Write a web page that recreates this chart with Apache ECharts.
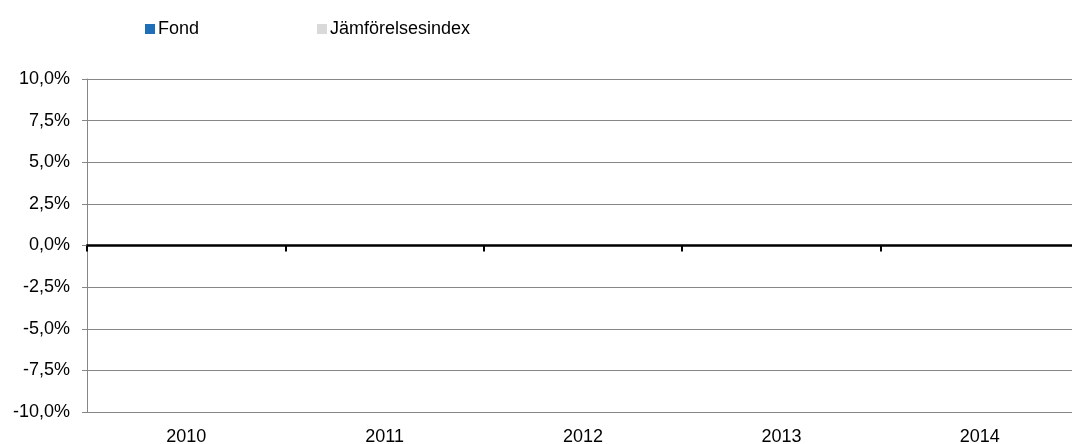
<!DOCTYPE html>
<html>
<head>
<meta charset="utf-8">
<script src="https://cdn.jsdelivr.net/npm/echarts@6/dist/echarts.min.js"></script>
<style>
html,body{margin:0;padding:0;background:#fff;}
#chart{width:1072px;height:444px;}
</style>
</head>
<body>
<div id="chart"></div>
<script>
const categories = ['2010', '2011', '2012', '2013', '2014'];
const fondValues = [0, 0, 0, 0, 0];
const indexValues = [0, 0, 0, 0, 0];
const seriesNames = ['Fond', 'Jämförelsesindex'];
const seriesColors = ['#1f6fb8', '#d9d9d9'];

const chart = echarts.init(document.getElementById('chart'), null, {renderer: 'canvas'});
const font = 'Liberation Sans, Arial, sans-serif';
const legendBase = {
  top: 20,
  itemWidth: 10,
  itemHeight: 10,
  icon: 'rect',
  padding: 0,
  textStyle: {fontFamily: font, fontSize: 18, color: '#000', padding: [0, 0, 0, -2]}
};
chart.setOption({
  animation: false,
  backgroundColor: '#fff',
  color: seriesColors,
  legend: [
    Object.assign({}, legendBase, {left: 145, data: [seriesNames[0]]}),
    Object.assign({}, legendBase, {left: 317, data: [seriesNames[1]]})
  ],
  grid: {left: 87, right: -7, top: 79, bottom: 32, containLabel: false, outerBoundsMode: 'none'},
  xAxis: [
    {
      type: 'category',
      data: categories,
      position: 'bottom',
      axisLine: {show: false, onZero: false},
      axisTick: {show: false},
      axisLabel: {fontFamily: font, fontSize: 18, color: '#000', margin: 16}
    },
    {
      type: 'category',
      data: categories,
      position: 'bottom',
      axisLine: {show: true, onZero: true, lineStyle: {color: '#000', width: 2.5}},
      axisTick: {show: true, inside: false, length: 6, lineStyle: {color: '#000', width: 2}},
      axisLabel: {show: false}
    }
  ],
  yAxis: {
    type: 'value',
    min: -0.1,
    max: 0.1,
    interval: 0.025,
    axisLine: {show: true, lineStyle: {color: '#868686', width: 1}},
    axisTick: {show: true, length: 5, lineStyle: {color: '#868686'}},
    splitLine: {show: true, lineStyle: {color: '#868686', width: 1}},
    axisLabel: {
      fontFamily: font, fontSize: 18, color: '#000', margin: 17,
      formatter: v => (v * 100).toFixed(1).replace('.', ',') + '%'
    }
  },
  series: [
    {name: seriesNames[0], type: 'bar', data: fondValues, xAxisIndex: 0},
    {name: seriesNames[1], type: 'bar', data: indexValues, xAxisIndex: 0}
  ]
});
</script>
</body>
</html>
